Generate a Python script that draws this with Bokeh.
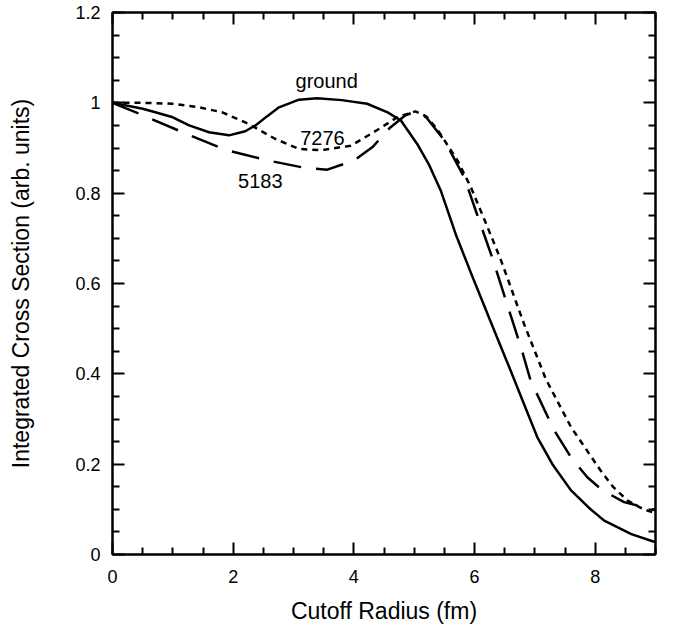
from bokeh.plotting import figure
from bokeh.models import Range1d, LinearAxis, FixedTicker
from bokeh.core.properties import value
from bokeh.embed import file_html
from bokeh.resources import INLINE

# ---- data ----
ground_x = [0.0, 0.5, 0.71, 1.0, 1.27, 1.6, 1.93, 2.2, 2.37, 2.56, 2.76, 3.09, 3.39, 3.8, 4.22,
            4.56, 4.78, 5.05, 5.25, 5.44, 5.7, 5.99, 6.3, 6.6, 6.8, 7.04, 7.3, 7.6, 7.9, 8.15, 8.6, 9.0]
ground_y = [1.000, 0.987, 0.979, 0.968, 0.950, 0.935, 0.928, 0.937, 0.950, 0.970, 0.990, 1.007, 1.010,
            1.006, 0.998, 0.979, 0.961, 0.909, 0.862, 0.806, 0.705, 0.607, 0.505, 0.407, 0.340, 0.260,
            0.198, 0.142, 0.103, 0.075, 0.045, 0.027]

s7276_x = [0.0, 0.5, 0.99, 1.4, 1.82, 2.26, 2.70, 3.09, 3.45, 3.95, 4.33, 4.72, 5.02, 5.2, 5.38,
           5.72, 5.94, 6.2, 6.44, 6.82, 7.18, 7.60, 8.09, 8.29, 8.53, 8.8, 9.0]
s7276_y = [1.000, 1.000, 0.998, 0.991, 0.979, 0.953, 0.920, 0.898, 0.895, 0.905, 0.935, 0.968, 0.981,
           0.970, 0.942, 0.872, 0.813, 0.730, 0.651, 0.511, 0.389, 0.282, 0.186, 0.151, 0.120, 0.100, 0.092]

s5183_x = [0.0, 0.44, 1.16, 1.87, 2.59, 3.15, 3.56, 4.00, 4.31, 4.6, 4.85, 5.0, 5.2, 5.50, 5.83,
           6.05, 6.30, 6.55, 6.77, 6.93, 7.32, 7.6, 7.87, 8.12, 8.48, 9.0]
s5183_y = [1.000, 0.976, 0.935, 0.896, 0.872, 0.857, 0.852, 0.872, 0.902, 0.945, 0.972, 0.980, 0.968,
           0.917, 0.835, 0.750, 0.655, 0.550, 0.459, 0.385, 0.275, 0.215, 0.171, 0.142, 0.116, 0.098]

label_text = ["ground", "7276", "5183"]
label_x = [3.55, 3.48, 2.45]
label_y = [1.049, 0.923, 0.828]

x_ticks = [0, 2, 4, 6, 8]
x_tick_labels = ["0", "2", "4", "6", "8"]
x_minor = [0.5, 1, 1.5, 2.5, 3, 3.5, 4.5, 5, 5.5, 6.5, 7, 7.5, 8.5, 9]
y_ticks = [0, 0.2, 0.4, 0.6, 0.8, 1, 1.2]
y_tick_labels = ["0", "0.2", "0.4", "0.6", "0.8", "1", "1.2"]
y_minor = [0.05, 0.1, 0.15, 0.25, 0.3, 0.35, 0.45, 0.5, 0.55, 0.65, 0.7, 0.75,
           0.85, 0.9, 0.95, 1.05, 1.1, 1.15]

FONT = "Liberation Sans"

p = figure(width=673, height=635, output_backend="svg", toolbar_location=None,
           x_range=Range1d(0, 9), y_range=Range1d(0, 1.2),
           min_border_left=112, min_border_right=18, min_border_top=12, min_border_bottom=81,
           x_axis_label="Cutoff Radius (fm)", y_axis_label="Integrated Cross Section (arb. units)")

p.background_fill_color = "white"
p.border_fill_color = "white"
p.outline_line_color = "black"
p.outline_line_width = 2
p.xgrid.visible = False
p.ygrid.visible = False

p.line(ground_x, ground_y, line_color="black", line_width=2.5)
p.line(s7276_x, s7276_y, line_color="black", line_width=2.5, line_dash="6 5")
p.line(s5183_x, s5183_y, line_color="black", line_width=2.5, line_dash="28 15")

p.text(x=label_x, y=label_y, text=label_text, text_align="center", text_baseline="middle",
       text_font=value(FONT), text_font_size="20px", text_color="black")


def style(ax, ticks, minor, labels, show_labels):
    ax.ticker = FixedTicker(ticks=ticks, minor_ticks=minor)
    ax.axis_line_color = "black"
    ax.axis_line_width = 2
    ax.major_tick_in = 12
    ax.major_tick_out = 0
    ax.minor_tick_in = 7
    ax.minor_tick_out = 0
    ax.major_tick_line_width = 2
    ax.minor_tick_line_width = 2
    ax.major_tick_line_color = "black"
    ax.minor_tick_line_color = "black"
    if show_labels:
        ax.major_label_overrides = {t: s for t, s in zip(ticks, labels)}
        ax.major_label_text_font = FONT
        ax.major_label_text_font_size = "18px"
        ax.major_label_text_color = "black"
        ax.axis_label_text_font = FONT
        ax.axis_label_text_font_size = "23px"
        ax.axis_label_text_font_style = "normal"
        ax.axis_label_text_color = "black"
    else:
        ax.major_label_overrides = {t: "" for t in ticks}
        ax.major_label_standoff = 0


xa = p.xaxis[0]
ya = p.yaxis[0]
style(xa, x_ticks, x_minor, x_tick_labels, True)
style(ya, y_ticks, y_minor, y_tick_labels, True)
xa.major_label_standoff = 15
xa.axis_label_standoff = 12
ya.major_label_standoff = 12
ya.axis_label_standoff = 38

top = LinearAxis()
style(top, x_ticks, x_minor, x_tick_labels, False)
p.add_layout(top, "above")
right = LinearAxis()
style(right, y_ticks, y_minor, y_tick_labels, False)
p.add_layout(right, "right")

open("out.html", "w").write(file_html(p, INLINE))
